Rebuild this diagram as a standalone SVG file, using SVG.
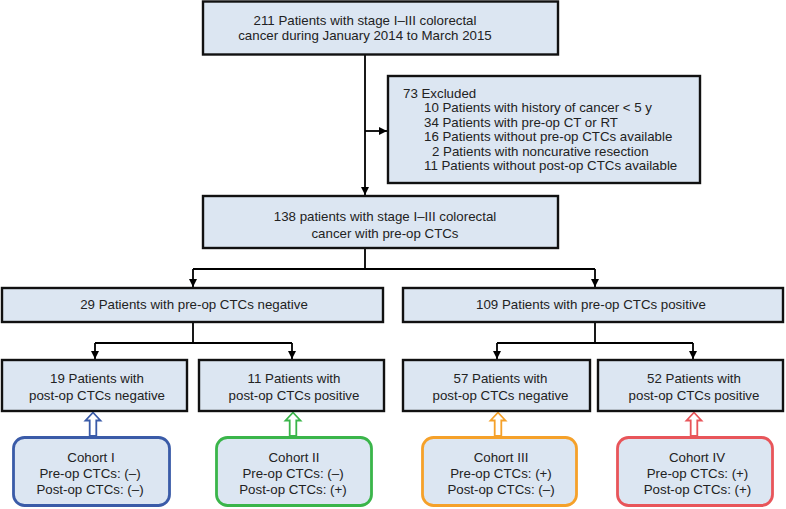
<svg xmlns="http://www.w3.org/2000/svg" width="786" height="509" viewBox="0 0 786 509">
<defs>
<marker id="ah" viewBox="0 0 10 10" refX="10" refY="5" markerWidth="8" markerHeight="8" markerUnits="userSpaceOnUse" orient="auto">
<path d="M0,0 L10,5 L0,10 Z" fill="#000"/>
</marker>
</defs>
<style>
.box{fill:#DCE6F2;stroke:#111;stroke-width:2.4}
.coh{fill:#DCE6F2;stroke-width:2.8}
text{font-family:"Liberation Sans",Arial,sans-serif;font-size:13.3px;fill:#222}
.c{text-anchor:middle}
.ln{fill:none;stroke:#000;stroke-width:1.8}
.ha{fill:#fff;stroke-width:1.8}
</style>
<rect width="786" height="509" fill="#fff"/>
<g id="connectors">
<path class="ln" d="M365,55 V195" marker-end="url(#ah)"/>
<path class="ln" d="M365,131 H387" marker-end="url(#ah)"/>
<path class="ln" d="M365,248 V269 M193,269 H595"/>
<path class="ln" d="M193,269 V287" marker-end="url(#ah)"/>
<path class="ln" d="M595,269 V287" marker-end="url(#ah)"/>
<path class="ln" d="M193,322 V343 M95,343 H292 M497,343 H693 M595,322 V343"/>
<path class="ln" d="M95,343 V359" marker-end="url(#ah)"/>
<path class="ln" d="M292,343 V359" marker-end="url(#ah)"/>
<path class="ln" d="M497,343 V359" marker-end="url(#ah)"/>
<path class="ln" d="M693,343 V359" marker-end="url(#ah)"/>
<path class="ha" stroke="#3A5BA8" d="M93,412.5 L100.5,420.5 L96.3,420.5 L96.3,436 L89.7,436 L89.7,420.5 L85.5,420.5 Z"/>
<path class="ha" stroke="#3AB54A" d="M293,412.5 L300.5,420.5 L296.3,420.5 L296.3,436 L289.7,436 L289.7,420.5 L285.5,420.5 Z"/>
<path class="ha" stroke="#F5A12A" d="M498,412.5 L505.5,420.5 L501.3,420.5 L501.3,436 L494.7,436 L494.7,420.5 L490.5,420.5 Z"/>
<path class="ha" stroke="#E8555A" d="M694,412.5 L701.5,420.5 L697.3,420.5 L697.3,436 L690.7,436 L690.7,420.5 L686.5,420.5 Z"/>
</g>
<g id="n_top">
<rect class="box" x="203" y="1.5" width="355" height="53"/>
<text class="c" x="365" y="25">211 Patients with stage I–III colorectal</text>
<text class="c" x="365" y="40">cancer during January 2014 to March 2015</text>
</g>
<g id="n_excluded">
<rect class="box" x="388" y="76" width="312" height="107"/>
<text x="403" y="97.5">73 Excluded</text>
<text x="424" y="112">10 Patients with history of cancer &lt; 5 y</text>
<text x="424" y="126.5">34 Patients with pre-op CT or RT</text>
<text x="424" y="141">16 Patients without pre-op CTCs available</text>
<text x="432" y="155.5">2 Patients with noncurative resection</text>
<text x="424" y="170">11 Patients without post-op CTCs available</text>
</g>
<g id="n_138">
<rect class="box" x="203" y="196" width="355" height="52"/>
<text class="c" x="385" y="221">138 patients with stage I–III colorectal</text>
<text class="c" x="385" y="237.5">cancer with pre-op CTCs</text>
</g>
<g id="n_neg">
<rect class="box" x="2" y="288" width="381" height="34"/>
<text class="c" x="194" y="308.5">29 Patients with pre-op CTCs negative</text>
</g>
<g id="n_pos">
<rect class="box" x="403" y="288" width="380" height="34"/>
<text class="c" x="591" y="308.5">109 Patients with pre-op CTCs positive</text>
</g>
<g id="n_19">
<rect class="box" x="2" y="360" width="185" height="51"/>
<text class="c" x="97" y="383">19 Patients with</text>
<text class="c" x="97" y="399.5">post-op CTCs negative</text>
</g>
<g id="n_11">
<rect class="box" x="199" y="360" width="185" height="51"/>
<text class="c" x="294" y="383">11 Patients with</text>
<text class="c" x="294" y="399.5">post-op CTCs positive</text>
</g>
<g id="n_57">
<rect class="box" x="403" y="360" width="187" height="51"/>
<text class="c" x="500.5" y="383">57 Patients with</text>
<text class="c" x="500.5" y="399.5">post-op CTCs negative</text>
</g>
<g id="n_52">
<rect class="box" x="598" y="360" width="185" height="51"/>
<text class="c" x="694" y="383">52 Patients with</text>
<text class="c" x="694" y="399.5">post-op CTCs positive</text>
</g>
<g id="cohort1">
<rect class="coh" stroke="#3A5BA8" x="13.5" y="437.5" width="156" height="68" rx="11"/>
<text class="c" x="91" y="462">Cohort I</text>
<text class="c" x="90" y="478">Pre-op CTCs: (–)</text>
<text class="c" x="90" y="494">Post-op CTCs: (–)</text>
</g>
<g id="cohort2">
<rect class="coh" stroke="#3AB54A" x="216.5" y="437.5" width="155" height="68" rx="11"/>
<text class="c" x="294" y="462">Cohort II</text>
<text class="c" x="293" y="478">Pre-op CTCs: (–)</text>
<text class="c" x="293" y="494">Post-op CTCs: (+)</text>
</g>
<g id="cohort3">
<rect class="coh" stroke="#F5A12A" x="422.5" y="437.5" width="154" height="68" rx="11"/>
<text class="c" x="501" y="462">Cohort III</text>
<text class="c" x="501" y="478">Pre-op CTCs: (+)</text>
<text class="c" x="501" y="494">Post-op CTCs: (–)</text>
</g>
<g id="cohort4">
<rect class="coh" stroke="#E8555A" x="617.5" y="437.5" width="155" height="68" rx="11"/>
<text class="c" x="697" y="462">Cohort IV</text>
<text class="c" x="697.5" y="478">Pre-op CTCs: (+)</text>
<text class="c" x="697.5" y="494">Post-op CTCs: (+)</text>
</g>
</svg>
